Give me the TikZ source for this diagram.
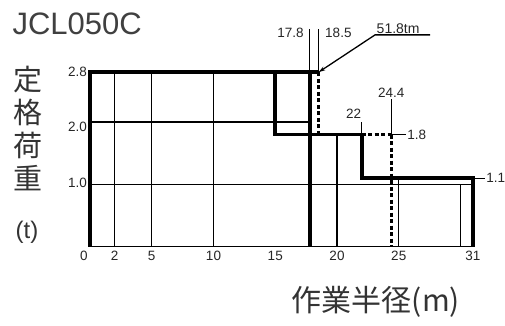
\documentclass[tikz,border=0pt]{standalone}
\usepackage{fontspec}
\setmainfont{Liberation Sans}
\newfontfamily\cjk{Noto Sans CJK JP}
\usetikzlibrary{arrows.meta}
\tikzset{
  gridline/.style={line width=1.3pt},
  rated/.style={line width=3.6pt},
  ratedalt/.style={line width=2.8pt, dash pattern=on 4pt off 2.5pt},
  numlabel/.style={font=\fontsize{13.5}{15}\selectfont, text=black!85, inner sep=1pt},
}
\begin{document}
\begin{tikzpicture}[x=12.35pt, y=62.3pt]
\useasboundingbox (-90pt,-78.3pt) rectangle (415pt,246.7pt);

\node[anchor=west, font=\fontsize{31}{32}\selectfont, text=black!75] (title) at (-81pt,222.7pt) {JCL050C};
\node[font=\cjk\fontsize{29}{33}\selectfont, align=center, text=black!80] (ylab) at (-62pt,117.7pt) {定\\格\\荷\\重};
\node[font=\fontsize{24}{26}\selectfont, text=black!80] (unit) at (-63pt,14.7pt) {(t)};
\node[font=\cjk\fontsize{30}{32}\selectfont, text=black!80] (xlab) at (286pt,-55.3pt) {作業半径(m)};

\draw[gridline] (0,0) -- (31,0);
\foreach \x in {2,5,10} \draw[gridline] (\x,0) -- (\x,2.8);
\draw[gridline] (20,0) -- (20,1.8);
\draw[gridline] (25,0) -- (25,1.1);
\draw[gridline] (30,0) -- (30,1);
\draw[gridline] (0,2) -- (17.8,2);
\draw[gridline] (0,1) -- (31,1);

\draw[gridline] (17.8,2.8) -- (17.8,3.5);
\draw[gridline] (18.5,2.8) -- (18.5,3.5);
\draw[gridline] (22,1.8) -- (22,2);

\draw[rated] (0,0) -- (0,2.8) -- (18.5,2.8);
\draw[rated] (15,2.8) -- (15,1.8) -- (22,1.8) -- (22,1.1) -- (31,1.1) -- (31,0);
\draw[rated] (17.8,2.8) -- (17.8,0);
\draw[ratedalt] (18.5,2.8) -- (18.5,1.8);
\draw[ratedalt] (22,1.8) -- (24.4,1.8);
\draw[ratedalt] (24.4,1.8) -- (24.4,0);

\foreach \v/\p [count=\i] in {2.8/2.8, 2.0/1.93, 1.0/1.02}
  \node[numlabel, anchor=east] (yt\i) at (-2pt,\p) {\v};
\node[numlabel] (xt0) at (-0.5,-0.15) {0};
\foreach \v in {2,5,10,15,20,25,31}
  \node[numlabel] (xt\v) at (\v,-0.15) {\v};

\node[numlabel, anchor=east] (r178) at (17.4,3.43) {17.8};
\node[numlabel, anchor=west] (r185) at (18.95,3.43) {18.5};
\node[numlabel] (r22) at (21.34,2.14) {22};
\node[numlabel] (r244) at (24.4,2.47) {24.4};
\node[numlabel, anchor=west] (c18) at (25.6,1.8) {1.8};
\node[numlabel, anchor=west] (c11) at (32,1.1) {1.1};

\draw[gridline] (24.4,1.8) -- (r244);
\draw[gridline] (24.4,1.8) -- (c18);
\draw[gridline] (31,1.1) -- (c11);

\coordinate (corner) at (18.5,2.8);
\coordinate (bend) at (23.08,3.40);
\coordinate (lend) at (27.53,3.40);
\node[numlabel, font=\fontsize{14}{16}\selectfont, anchor=south west, inner sep=1.5pt] (mom) at (bend) {51.8tm};
\draw[gridline, -{Stealth[length=7pt,width=4pt]}] (lend) -- (bend) -- (corner);
\end{tikzpicture}
\end{document}
